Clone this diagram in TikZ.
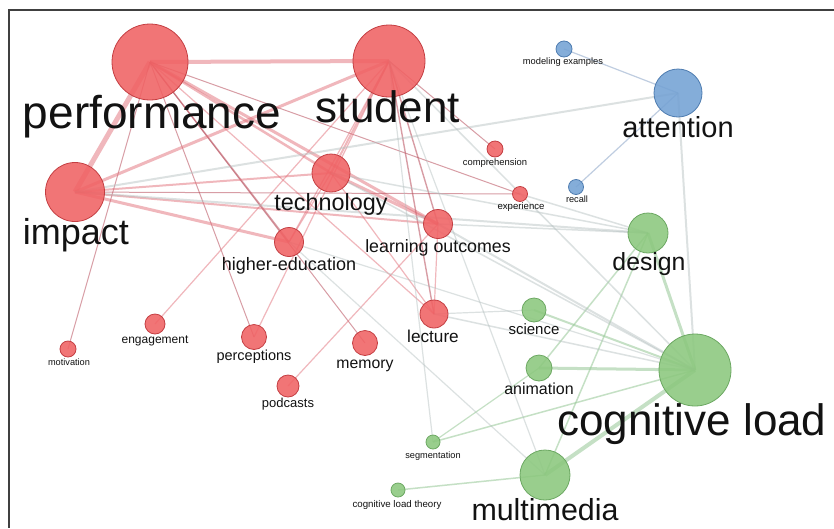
\documentclass[tikz,border=0pt]{standalone}
\usepackage{fontspec}
\setmainfont{Liberation Sans}
\pgfdeclarelayer{background}
\pgfsetlayers{background,main}
\newcommand\fsz[1]{\fontsize{#1}{#1}\selectfont}
\definecolor{redfill}{RGB}{240,98,100}
\definecolor{redline}{RGB}{196,62,66}
\definecolor{greenfill}{RGB}{140,200,126}
\definecolor{greenline}{RGB}{108,168,98}
\definecolor{bluefill}{RGB}{116,162,212}
\definecolor{blueline}{RGB}{78,124,176}
\definecolor{redge}{RGB}{226,112,122}
\definecolor{redgedark}{RGB}{184,78,92}
\definecolor{grayedge}{RGB}{178,190,190}
\definecolor{greenedge}{RGB}{150,200,150}
\definecolor{blueedge}{RGB}{140,165,200}
\definecolor{labeltext}{RGB}{18,18,18}
\begin{document}
\begin{tikzpicture}[x=1pt,y=-1pt,
  kw/.style={circle, inner sep=0pt, line width=0.8pt, fill opacity=0.88},
  kred/.style={kw, draw=redline, fill=redfill},
  kgreen/.style={kw, draw=greenline, fill=greenfill},
  kblue/.style={kw, draw=blueline, fill=bluefill},
  lbl/.style={anchor=base, inner sep=0pt, text=labeltext},
  re/.style={draw=redge, draw opacity=0.5, line width=#1},
  re/.default=1.2pt,
  rd/.style={draw=redgedark, draw opacity=0.55, line width=#1},
  rd/.default=1pt,
  ge/.style={draw=grayedge, draw opacity=0.45, line width=#1},
  ge/.default=1.5pt,
  gn/.style={draw=greenedge, draw opacity=0.55, line width=#1},
  gn/.default=1.5pt,
  bl/.style={draw=blueedge, draw opacity=0.55, line width=#1},
  bl/.default=1.2pt,
  framed/.style={draw=black!75, line width=1.4pt}
]
\useasboundingbox (0,0) rectangle (834,528);

% keyword circles: red cluster
\node[kred, minimum size=76pt] (perf) at (150,62) {};
\node[kred, minimum size=72pt] (stud) at (389,61) {};
\node[kred, minimum size=59pt] (imp) at (75,192) {};
\node[kred, minimum size=38pt] (tech) at (331,173) {};
\node[kred, minimum size=29pt] (hied) at (289,242) {};
\node[kred, minimum size=29pt] (lout) at (438,224) {};
\node[kred, minimum size=16pt] (comp) at (495,149) {};
\node[kred, minimum size=15pt] (expr) at (520,194) {};
\node[kred, minimum size=28pt] (lect) at (434,314) {};
\node[kred, minimum size=16pt] (mot) at (68,349) {};
\node[kred, minimum size=20pt] (eng) at (155,324) {};
\node[kred, minimum size=25pt] (perc) at (254,337) {};
\node[kred, minimum size=25pt] (mem) at (365,343) {};
\node[kred, minimum size=22pt] (pod) at (288,386) {};
% blue cluster
\node[kblue, minimum size=16pt] (mex) at (564,49) {};
\node[kblue, minimum size=48pt] (att) at (678,93) {};
\node[kblue, minimum size=15pt] (rec) at (576,187) {};
% green cluster
\node[kgreen, minimum size=40pt] (des) at (648,233) {};
\node[kgreen, minimum size=72pt] (cl) at (695,370) {};
\node[kgreen, minimum size=50pt] (mm) at (545,475) {};
\node[kgreen, minimum size=24pt] (sci) at (534,310) {};
\node[kgreen, minimum size=26pt] (ani) at (539,368) {};
\node[kgreen, minimum size=14pt] (seg) at (433,442) {};
\node[kgreen, minimum size=14pt] (clt) at (398,490) {};

\begin{pgfonlayer}{background}
\fill[white] (0,0) rectangle (834,528);
% links inside the red cluster
\draw[re=4pt] (perf.center) -- (stud.center);
\draw[re=5pt] (perf.center) -- (imp.center);
\draw[re=2.5pt] (perf.center) -- (tech.center);
\draw[rd=1.4pt] (perf.center) -- (hied.center);
\draw[re=3pt] (perf.center) -- (lout.center);
\draw[rd] (perf.center) -- (perc.center);
\draw[rd] (perf.center) -- (mot.center);
\draw[rd] (perf.center) -- (mem.center);
\draw[rd] (perf.center) -- (expr.center);
\draw[re] (perf.center) -- (lect.center);
\draw[re=3pt] (stud.center) -- (imp.center);
\draw[re=2pt] (stud.center) -- (tech.center);
\draw[re] (stud.center) -- (hied.center);
\draw[rd=1.4pt] (stud.center) -- (lout.center);
\draw[rd=1.4pt] (stud.center) -- (lect.center);
\draw[rd] (stud.center) -- (comp.center);
\draw[re] (stud.center) -- (eng.center);
\draw[re] (stud.center) -- (perc.center);
\draw[re=2pt] (imp.center) -- (tech.center);
\draw[re=3pt] (imp.center) -- (hied.center);
\draw[re=2pt] (imp.center) -- (lout.center);
\draw[rd] (imp.center) -- (expr.center);
\draw[re] (tech.center) -- (hied.center);
\draw[re=3pt] (tech.center) -- (lout.center);
\draw[re] (tech.center) -- (lect.center);
\draw[re] (lout.center) -- (pod.center);
\draw[re] (lout.center) -- (lect.center);
% links reaching the blue and green clusters
\draw[bl] (att.center) -- (mex.center);
\draw[bl] (att.center) -- (rec.center);
\draw[ge=2pt] (att.center) -- (cl.center);
\draw[ge=2pt] (att.center) -- (imp.center);
\draw[gn=3pt] (des.center) -- (cl.center);
\draw[ge=2pt] (des.center) -- (imp.center);
\draw[ge] (des.center) -- (tech.center);
\draw[ge] (des.center) -- (lout.center);
\draw[ge] (des.center) -- (expr.center);
\draw[gn] (des.center) -- (mm.center);
\draw[gn] (des.center) -- (ani.center);
\draw[gn=2pt] (cl.center) -- (sci.center);
\draw[gn=3pt] (cl.center) -- (ani.center);
\draw[gn=4pt] (cl.center) -- (mm.center);
\draw[gn] (cl.center) -- (seg.center);
\draw[ge] (cl.center) -- (lect.center);
\draw[ge=2pt] (cl.center) -- (lout.center);
\draw[ge] (cl.center) -- (tech.center);
\draw[ge] (cl.center) -- (stud.center);
\draw[ge=1.2pt] (cl.center) -- (hied.center);
\draw[gn] (mm.center) -- (clt.center);
\draw[ge=1.2pt] (mm.center) -- (stud.center);
\draw[ge=1.2pt] (mm.center) -- (hied.center);
\draw[gn=1.2pt] (seg.center) -- (ani.center);
\draw[ge=1.2pt] (seg.center) -- (stud.center);
\draw[ge=1.2pt] (sci.center) -- (lect.center);
\end{pgfonlayer}

% frame corner
\coordinate (frameR) at (834,10);
\coordinate (frameC) at (9,10);
\coordinate (frameB) at (9,528);
\draw[framed] (frameR) -- (frameC) -- (frameB);

% labels
\node[lbl, font=\fsz{46}] (perfL) at (152,128) {performance};
\node[lbl, font=\fsz{44}] (studL) at (388,122) {student};
\node[lbl, font=\fsz{36}] (impL) at (76,244) {impact};
\node[lbl, font=\fsz{23.4}] (techL) at (331,210) {technology};
\node[lbl, font=\fsz{18}] (hiedL) at (289,270) {higher-education};
\node[lbl, font=\fsz{17.8}] (loutL) at (438,252) {learning outcomes};
\node[lbl, font=\fsz{9.4}] (compL) at (495,165) {comprehension};
\node[lbl, font=\fsz{9.6}] (exprL) at (521,209) {experience};
\node[lbl, font=\fsz{17.2}] (lectL) at (433,342) {lecture};
\node[lbl, font=\fsz{9.2}] (motL) at (69,365) {motivation};
\node[lbl, font=\fsz{12}] (engL) at (155,343) {engagement};
\node[lbl, font=\fsz{14.5}] (percL) at (254,360) {perceptions};
\node[lbl, font=\fsz{15.8}] (memL) at (365,368) {memory};
\node[lbl, font=\fsz{13}] (podL) at (288,407) {podcasts};
\node[lbl, font=\fsz{9.3}] (mexL) at (563,64) {modeling examples};
\node[lbl, font=\fsz{29}] (attL) at (678,137) {attention};
\node[lbl, font=\fsz{9.2}] (recL) at (577,202) {recall};
\node[lbl, font=\fsz{24.8}] (desL) at (649,270) {design};
\node[lbl, font=\fsz{44}] (clL) at (692,435) {cognitive load};
\node[lbl, font=\fsz{30.4}] (mmL) at (545,520) {multimedia};
\node[lbl, font=\fsz{15}] (sciL) at (534,334) {science};
\node[lbl, font=\fsz{16}] (aniL) at (539,394) {animation};
\node[lbl, font=\fsz{9.2}] (segL) at (433,458) {segmentation};
\node[lbl, font=\fsz{9.7}] (cltL) at (397,507) {cognitive load theory};
\end{tikzpicture}
\end{document}
